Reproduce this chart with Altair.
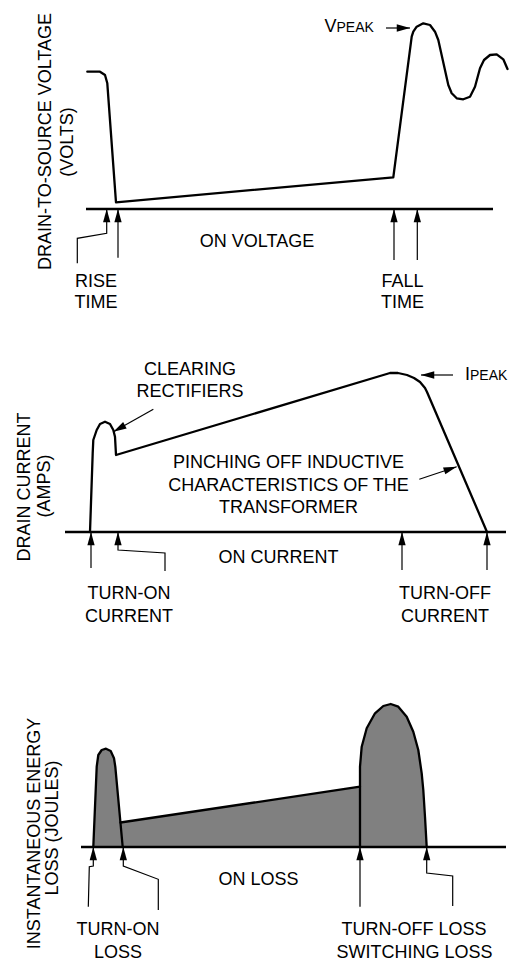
import math
import altair as alt
import pandas as pd

FONT = "Liberation Sans"
W = 500
T_DOMAIN = [0, 100]
ARROW_SHAPE = "M0,0L0.55,2L-0.55,2Z"

# ---------------- Panel 1 : drain-to-source voltage ----------------
volt_t = [15.86, 18.4, 19.4, 19.86, 21.6, 77.06, 80.74, 81.06, 81.74, 83.06, 84.4, 85.4, 86.06,
          88.06, 88.74, 89.74, 91.06, 92.4, 93.4, 94.4, 95.2, 96.4, 97.74, 99.06, 99.9]
volt_v = [27.46, 27.46, 26.8, 25.14, 1.34, 6.34, 34.46, 35.46, 36.46, 37.14, 36.8, 35.46, 33.8,
          24.8, 23.14, 22.14, 21.94, 22.46, 24.46, 28.14, 29.8, 30.8, 30.94, 29.94, 28.0]
volt_axis = [15.6, 97.0]
volt_arrows = {
    "rise_a": ([13.86, 13.86, 19.74, 19.74], [-10.86, -5.86, -4.86, 0]),
    "rise_b": ([22.0, 22.0], [-9.74, 0]),
    "fall_a": ([77.2, 77.2], [-10.2, 0]),
    "fall_b": ([81.86, 81.86], [-10.2, 0]),
    "vpeak": ([75.6, 80.4], [36.2, 36.2]),
}
volt_labels = [("ON VOLTAGE", 49.8, -7.6), ("RISE", 17.6, -15.6), ("TIME", 17.6, -19.8),
               ("FALL", 78.9, -15.6), ("TIME", 78.9, -19.8)]
volt_titles = [("DRAIN-TO-SOURCE VOLTAGE", 7.5, 13.5), ("(VOLTS)", 12.0, 13.4)]
volt_main = [("V", 65.7, 35.4)]
volt_sub = [("PEAK", 65.7, 35.4)]

# ---------------- Panel 2 : drain current ----------------
current_t = [16.4, 16.94, 17.06, 17.74, 18.4, 19.4, 20.4, 21.06, 21.4, 21.6, 76.4, 78.0, 79.8,
             81.2, 82.4, 83.4, 83.8, 95.8]
current_v = [0, 15.74, 18.4, 20.4, 21.6, 22.06, 21.6, 20.4, 19.06, 15.4, 31.8, 31.8, 31.4,
             30.8, 30.0, 28.8, 28.0, 0]
current_axis = [11.4, 99.6]
current_arrows = {
    "on_a": ([16.6, 16.6], [-7.2, 0]),
    "on_b": ([31.4, 31.4, 22.0, 22.0], [-7.8, -4.2, -3.6, 0]),
    "off_a": ([78.8, 78.8], [-7.6, 0]),
    "off_b": ([95.8, 95.8], [-7.6, 0]),
    "clear": ([29.07, 21.07], [24.54, 20.06]),
    "pinch": ([82.26, 89.74], [10.54, 13.06]),
    "ipeak": ([89.0, 82.6], [31.4, 31.4]),
}
current_labels = [("CLEARING", 36.4, 31.4), ("RECTIFIERS", 36.4, 27.0),
                  ("PINCHING OFF INDUCTIVE", 56.1, 12.8), ("CHARACTERISTICS OF THE", 56.1, 8.2),
                  ("TRANSFORMER", 56.1, 3.8), ("ON CURRENT", 54.1, -6.2),
                  ("TURN-ON", 24.2, -13.4), ("CURRENT", 24.2, -18.0),
                  ("TURN-OFF", 87.4, -13.4), ("CURRENT", 87.4, -18.0)]
current_titles = [("DRAIN CURRENT", 3.4, 9.0), ("(AMPS)", 7.4, 9.2)]
current_main = [("I", 92.4, 30.4)]
current_sub = [("PEAK", 92.4, 30.4)]

# ---------------- Panel 3 : instantaneous energy loss ----------------
pulse1_t = [17.06, 17.74, 18.06, 18.74, 19.6, 20.54, 21.2, 21.46, 22.94]
pulse1_v = [0, 16.06, 18.4, 19.4, 19.66, 19.2, 17.74, 16.06, 0]
ramp_t = [22.5, 70.4]
ramp_v = [4.9, 12.06]
pulse2_t = [70.4, 70.4, 70.74, 71.74, 73.4, 75.06, 76.54, 78.06, 79.74, 81.06, 82.06, 82.74,
            83.06, 83.4, 83.74]
pulse2_v = [0, 16.06, 20.06, 23.74, 26.74, 28.2, 28.6, 28.06, 26.06, 23.06, 19.4, 14.74,
            11.4, 6.06, 0]
loss_axis = [14.6, 99.6]
loss_arrows = {
    "on_a": ([16.06, 16.26, 17.06, 17.06], [-11.94, -3.94, -3.8, 0]),
    "on_b": ([30.06, 30.06, 23.06, 23.06], [-12.6, -6.46, -3.8, 0]),
    "off_a": ([70.4, 70.4], [-11.94, 0]),
    "off_b": ([88.94, 88.94, 83.74, 83.74], [-11.8, -5.8, -5.2, 0]),
}
loss_labels = [("ON LOSS", 50.1, -7.6), ("TURN-ON", 22.0, -17.6), ("LOSS", 22.0, -22.2),
               ("TURN-OFF LOSS", 81.2, -17.6), ("SWITCHING LOSS", 81.3, -22.2)]
loss_titles = [("INSTANTANEOUS ENERGY", 5.3, 2.7), ("LOSS (JOULES)", 9.0, 3.8)]


# ---------------- helpers ----------------
def seg_df(segments):
    rows = []
    for name, (ts, vs) in segments.items():
        for i, (a, b) in enumerate(zip(ts, vs)):
            rows.append({"id": name, "t": a, "v": b, "i": i})
    return pd.DataFrame(rows)


def head_df(arrows):
    rows = []
    for name, (ts, vs) in arrows.items():
        dt = ts[-1] - ts[-2]
        dv = vs[-1] - vs[-2]
        rows.append({"t": ts[-1], "v": vs[-1], "ang": math.degrees(math.atan2(dt, dv)) % 360})
    return pd.DataFrame(rows)


def text_df(items):
    return pd.DataFrame([{"txt": s, "t": a, "v": b} for s, a, b in items])


def xy(ydom):
    return dict(
        x=alt.X("t:Q", scale=alt.Scale(domain=T_DOMAIN, nice=False, zero=False), axis=None),
        y=alt.Y("v:Q", scale=alt.Scale(domain=ydom, nice=False, zero=False), axis=None, stack=None),
    )


def panel(height, ydom, waves, axis_ext, arrows, labels, titles, main=None, sub=None, fill=None):
    enc = xy(ydom)
    layers = []
    if fill is not None:
        fdf = pd.DataFrame({"t": fill[0], "v": fill[1], "i": list(range(len(fill[0])))})
        layers.append(alt.Chart(fdf).mark_area(color="#808080", opacity=1, interpolate="linear")
                      .encode(**enc, y2=alt.datum(0)))
    base = pd.DataFrame({"t": [axis_ext[0]], "t1": [axis_ext[1]], "v": [0]})
    layers.append(alt.Chart(base).mark_rule(color="black", strokeWidth=2.6)
                  .encode(x=enc["x"], x2="t1:Q", y=enc["y"]))
    layers.append(alt.Chart(seg_df(waves)).mark_line(color="black", strokeWidth=2.3,
                                                      strokeJoin="round", strokeCap="round")
                  .encode(**enc, detail="id:N", order="i:Q"))
    layers.append(alt.Chart(seg_df(arrows)).mark_line(color="black", strokeWidth=1.2)
                  .encode(**enc, detail="id:N", order="i:Q"))
    layers.append(alt.Chart(head_df(arrows)).mark_point(shape=ARROW_SHAPE, filled=True, size=175,
                                                        color="black", opacity=1, strokeWidth=0)
                  .encode(**enc, angle=alt.Angle("ang:Q", scale=None)))
    layers.append(alt.Chart(text_df(labels)).mark_text(font=FONT, fontSize=18, align="center",
                                                       baseline="alphabetic", color="black")
                  .encode(**enc, text="txt:N"))
    layers.append(alt.Chart(text_df(titles)).mark_text(font=FONT, fontSize=18, align="center",
                                                       baseline="middle", angle=270, color="black")
                  .encode(**enc, text="txt:N"))
    if main:
        layers.append(alt.Chart(text_df(main)).mark_text(font=FONT, fontSize=18, align="right",
                                                         baseline="alphabetic", color="black")
                      .encode(**enc, text="txt:N"))
    if sub:
        layers.append(alt.Chart(text_df(sub)).mark_text(font=FONT, fontSize=14, align="left",
                                                        baseline="alphabetic", color="black")
                      .encode(**enc, text="txt:N"))
    return alt.layer(*layers).properties(width=W, height=height)


fill_t = pulse1_t[:8] + ramp_t + pulse2_t[1:]
fill_v = pulse1_v[:8] + ramp_v + pulse2_v[1:]

p1 = panel(310, [-21.8, 40.2], {"volt": (volt_t, volt_v)}, volt_axis, volt_arrows,
           volt_labels, volt_titles, volt_main, volt_sub)
p2 = panel(310, [-19.2, 42.8], {"cur": (current_t, current_v)}, current_axis, current_arrows,
           current_labels, current_titles, current_main, current_sub)
p3 = panel(327, [-21.6, 43.8],
           {"p1": (pulse1_t, pulse1_v), "ramp": (ramp_t, ramp_v), "p2": (pulse2_t, pulse2_v)},
           loss_axis, loss_arrows, loss_labels, loss_titles, fill=(fill_t, fill_v))

chart = alt.vconcat(p1, p2, p3, spacing=0).properties(
    padding=0, background="white"
).configure_view(stroke=None)

chart.save("out.html", embed_options={"renderer": "svg", "actions": False})
